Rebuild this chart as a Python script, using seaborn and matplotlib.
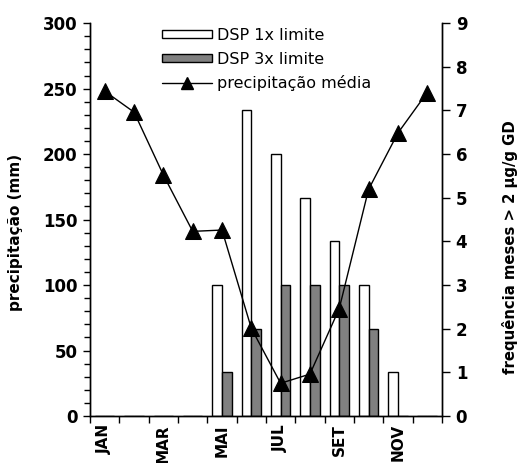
import numpy as np
import pandas as pd
import matplotlib
matplotlib.use("Agg")
import matplotlib.pyplot as plt
import seaborn as sns
from matplotlib.patches import Patch
from matplotlib.lines import Line2D
from matplotlib.ticker import MultipleLocator, FixedLocator

# --- data ---
meses = ["JAN", "FEV", "MAR", "ABR", "MAI", "JUN", "JUL", "AGO", "SET", "OUT", "NOV", "DEZ"]
precipitacao = [248, 232, 184, 141, 142, 67, 25, 32, 82, 173, 216, 247]
dsp_1x = [0, 0, 0, 0, 3, 7, 6, 5, 4, 3, 1, 0]
dsp_3x = [0, 0, 0, 0, 1, 2, 3, 3, 3, 2, 0, 0]

sns.set_style("ticks")
plt.rcParams["font.family"] = ["DejaVu Sans"]
plt.rcParams["text.color"] = "black"
plt.rcParams["axes.labelcolor"] = "black"
plt.rcParams["xtick.color"] = "black"
plt.rcParams["ytick.color"] = "black"

df = pd.DataFrame({
    "mes": meses * 2,
    "freq": dsp_1x + dsp_3x,
    "tipo": ["DSP 1x limite"] * 12 + ["DSP 3x limite"] * 12,
})

fig = plt.figure(figsize=(5.21, 4.63), dpi=100)
ax1 = fig.add_axes([0.173, 0.1015, 0.675, 0.8485])
ax2 = ax1.twinx()

# bars on the right axis
sns.barplot(data=df, x="mes", y="freq", hue="tipo", order=meses, ax=ax2,
            palette=["white", "#808080"], edgecolor="black", linewidth=1,
            width=0.66, legend=False)

# line on the left axis, drawn above the bars
x = np.arange(len(meses))
sns.lineplot(x=x, y=precipitacao, ax=ax1, color="black", marker="^",
             markersize=11, markeredgecolor="black", linewidth=1, sort=False)
ax1.set_zorder(ax2.get_zorder() + 1)
ax1.patch.set_visible(False)

ax1.set_xlim(-0.5, 11.5)
ax2.set_xlim(-0.5, 11.5)
ax1.set_ylim(0, 300)
ax2.set_ylim(0, 9)

# x ticks at month boundaries, labels at every other month centre
ax1.xaxis.set_major_locator(FixedLocator(np.arange(-0.5, 12, 1)))
ax1.xaxis.set_major_formatter(plt.NullFormatter())
ax1.xaxis.set_minor_locator(FixedLocator(x[::2]))
ax1.set_xticklabels(meses[::2], minor=True, rotation=90, fontweight="bold", fontsize=11)
ax1.tick_params(axis="x", which="minor", length=0, pad=6)
ax1.tick_params(axis="x", which="major", length=5, width=1, direction="out")
ax2.set_xlabel("")
ax1.set_xlabel("")

ax1.yaxis.set_major_locator(MultipleLocator(50))
ax1.yaxis.set_minor_locator(MultipleLocator(10))
ax1.tick_params(axis="y", which="major", length=5, width=1, labelsize=12, pad=4)
ax1.tick_params(axis="y", which="minor", length=4, width=1)
for t in ax1.get_yticklabels():
    t.set_fontweight("bold")

ax2.yaxis.set_major_locator(MultipleLocator(1))
ax2.tick_params(axis="y", which="major", length=6, width=1, labelsize=12, pad=4)
for t in ax2.get_yticklabels():
    t.set_fontweight("bold")

ax1.set_ylabel("precipitação (mm)", fontweight="bold", fontsize=11)
ax1.yaxis.set_label_coords(-0.19, 0.466)
ax2.set_ylabel("frequência meses > 2 µg/g GD", fontweight="bold", fontsize=10.7)
ax2.yaxis.set_label_coords(1.17, 0.43)

for ax in (ax1, ax2):
    ax.spines["top"].set_visible(False)
    for s in ("left", "right", "bottom"):
        ax.spines[s].set_linewidth(1)
        ax.spines[s].set_color("black")

handles = [
    Patch(facecolor="white", edgecolor="black", label="DSP 1x limite"),
    Patch(facecolor="#808080", edgecolor="black", label="DSP 3x limite"),
    Line2D([0], [0], color="black", marker="^", markersize=8, linewidth=1,
           label="precipitação média"),
]
fig.legend(handles=handles, loc="upper left", bbox_to_anchor=(0.311, 0.94),
           frameon=False, fontsize=11.5, handlelength=3.1, handleheight=0.4,
           handletextpad=0.35, labelspacing=0.55, borderpad=0, borderaxespad=0)

fig.savefig("out.png", dpi=100)
